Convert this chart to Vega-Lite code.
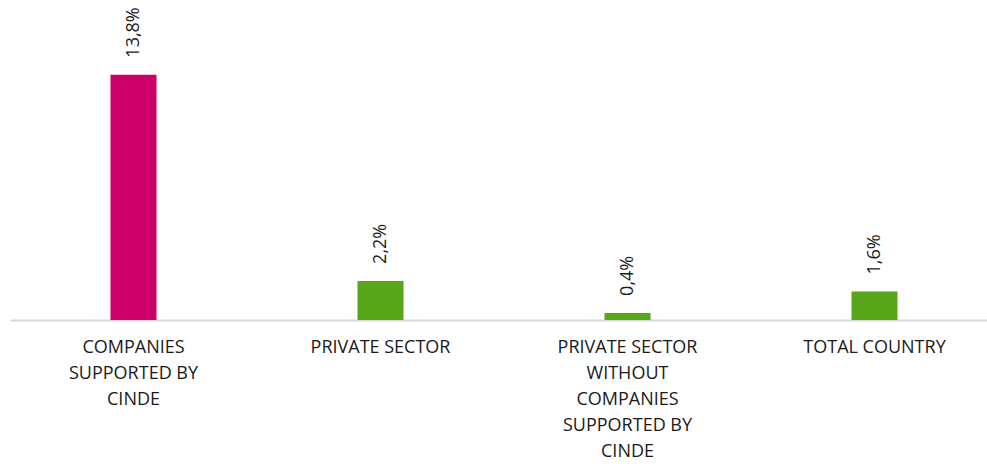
{
  "$schema": "https://vega.github.io/schema/vega-lite/v6.json",
  "autosize": "none",
  "padding": {"left": 10, "top": 0, "right": 0, "bottom": 144},
  "width": 988,
  "height": 320,
  "background": "white",
  "config": {
    "view": {"stroke": null},
    "locale": {"number": {"decimal": ",", "thousands": ".", "grouping": [3], "currency": ["", " €"]}},
    "font": "Open Sans"
  },
  "data": {
    "values": [
      {"category": "COMPANIES SUPPORTED BY CINDE", "value": 0.138, "group": "CINDE"},
      {"category": "PRIVATE SECTOR", "value": 0.022, "group": "Other"},
      {"category": "PRIVATE SECTOR WITHOUT COMPANIES SUPPORTED BY CINDE", "value": 0.004, "group": "Other"},
      {"category": "TOTAL COUNTRY", "value": 0.016, "group": "Other"}
    ]
  },
  "encoding": {
    "x": {
      "field": "category",
      "type": "nominal",
      "sort": null,
      "scale": {"paddingInner": 0, "paddingOuter": 0},
      "axis": {
        "title": null,
        "labelAngle": 0,
        "ticks": false,
        "domainColor": "#d9d9d9",
        "domainWidth": 2,
        "labelFontSize": 18,
        "labelColor": "#1a1a1a",
        "labelPadding": 18,
        "labelLineHeight": 26,
        "labelBaseline": "top",
        "labelLimit": 0,
        "labelExpr": "datum.value == 'COMPANIES SUPPORTED BY CINDE' ? ['COMPANIES', 'SUPPORTED BY', 'CINDE'] : datum.value == 'PRIVATE SECTOR WITHOUT COMPANIES SUPPORTED BY CINDE' ? ['PRIVATE SECTOR', 'WITHOUT', 'COMPANIES', 'SUPPORTED BY', 'CINDE'] : datum.value"
      }
    },
    "y": {
      "field": "value",
      "type": "quantitative",
      "scale": {"domain": [0, 0.18]},
      "axis": null
    }
  },
  "layer": [
    {
      "mark": {"type": "bar", "width": 46},
      "encoding": {
        "color": {
          "field": "group",
          "type": "nominal",
          "scale": {"domain": ["CINDE", "Other"], "range": ["#CC0066", "#58A61A"]},
          "legend": null
        }
      }
    },
    {
      "mark": {"type": "text", "angle": 270, "align": "left", "baseline": "middle", "dx": 17, "fontSize": 18, "color": "#1a1a1a"},
      "encoding": {
        "text": {"field": "value", "type": "quantitative", "format": ".1%"}
      }
    }
  ]
}
